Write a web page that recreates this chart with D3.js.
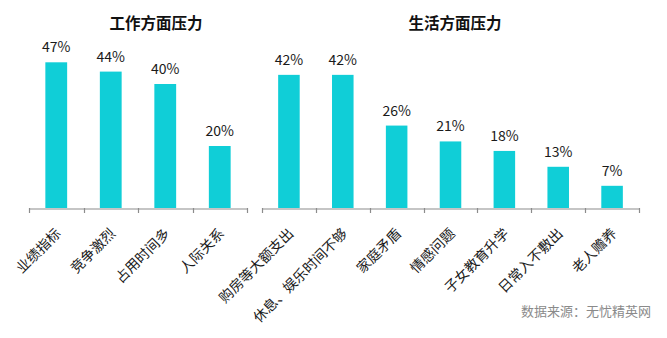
<!DOCTYPE html>
<html>
<head>
<meta charset="utf-8">
<script src="https://cdn.jsdelivr.net/npm/d3@7"></script>
<style>
  html, body { margin: 0; padding: 0; background: #fff; }
  svg { display: block; font-family: "Noto Sans CJK SC", "Noto Sans", sans-serif; }
</style>
</head>
<body>
<svg id="chart" width="667" height="338"></svg>
<script>
// Work-related stress factors (%)
const workCategories = ["业绩指标", "竞争激烈", "占用时间多", "人际关系"];
const workValues = [47, 44, 40, 20];
const workTitle = "工作方面压力";

// Life-related stress factors (%)
const lifeCategories = ["购房等大额支出", "休息、娱乐时间不够", "家庭矛盾", "情感问题", "子女教育升学", "日常入不敷出", "老人赡养"];
const lifeValues = [42, 42, 26, 21, 18, 13, 7];
const lifeTitle = "生活方面压力";

const sourceText = "数据来源：无忧精英网";

const svg = d3.select("#chart");
const baseY = 208;
const barColor = "#10ced7";
const axisColor = "#8c8c8c";

function drawPanel(categories, values, title, x0, x1, topY, titleX) {
  const x = d3.scaleBand().domain(categories).range([x0, x1]).padding(0);
  const y = d3.scaleLinear().domain([0, 50]).range([baseY, topY]);
  const g = svg.append("g");
  const barW = x.bandwidth() * 0.4;

  g.selectAll("rect.bar")
    .data(categories)
    .join("rect")
    .attr("class", "bar")
    .attr("x", (d) => x(d) + (x.bandwidth() - barW) / 2)
    .attr("width", barW)
    .attr("y", (d, i) => y(values[i]))
    .attr("height", (d, i) => baseY - y(values[i]))
    .attr("fill", barColor);

  g.selectAll("text.val")
    .data(categories)
    .join("text")
    .attr("class", "val")
    .attr("x", (d) => x(d) + x.bandwidth() / 2)
    .attr("y", (d, i) => y(values[i]) - 10)
    .attr("text-anchor", "middle")
    .attr("font-size", 14)
    .attr("fill", "#1a1a1a")
    .text((d, i) => values[i] + "%");

  // baseline axis with tick marks on category boundaries
  const axis = d3.axisBottom(x).tickSize(0).tickSizeOuter(0).tickFormat("");
  const ag = g.append("g").attr("transform", `translate(0,${baseY + 0.5})`).call(axis);
  ag.select(".domain").attr("stroke", axisColor).attr("stroke-width", 1.2);
  const bounds = categories.map((d) => x(d)).concat([x1]);
  g.selectAll("line.tick-b")
    .data(bounds)
    .join("line")
    .attr("class", "tick-b")
    .attr("x1", (d) => Math.round(d) + 0.5)
    .attr("x2", (d) => Math.round(d) + 0.5)
    .attr("y1", baseY)
    .attr("y2", baseY + 5)
    .attr("stroke", axisColor)
    .attr("stroke-width", 1.2);

  g.selectAll("text.cat")
    .data(categories)
    .join("text")
    .attr("class", "cat")
    .attr("transform", (d) => `translate(${x(d) + x.bandwidth() / 2 + 2},${baseY + 23}) rotate(-45)`)
    .attr("text-anchor", "end")
    .attr("dy", "0.35em")
    .attr("font-size", 14)
    .attr("fill", "#1a1a1a")
    .text((d) => d);

  g.append("text")
    .attr("x", titleX)
    .attr("y", 29)
    .attr("text-anchor", "middle")
    .attr("font-size", 15.5)
    .attr("font-weight", "bold")
    .attr("fill", "#111")
    .text(title);
}

drawPanel(workCategories, workValues, workTitle, 29, 247, 53, 156);
drawPanel(lifeCategories, lifeValues, lifeTitle, 262, 639, 49.5, 455);

svg.append("text")
  .attr("x", 651)
  .attr("y", 316)
  .attr("text-anchor", "end")
  .attr("font-size", 13)
  .attr("fill", "#8a8a8a")
  .text(sourceText);
</script>
</body>
</html>
